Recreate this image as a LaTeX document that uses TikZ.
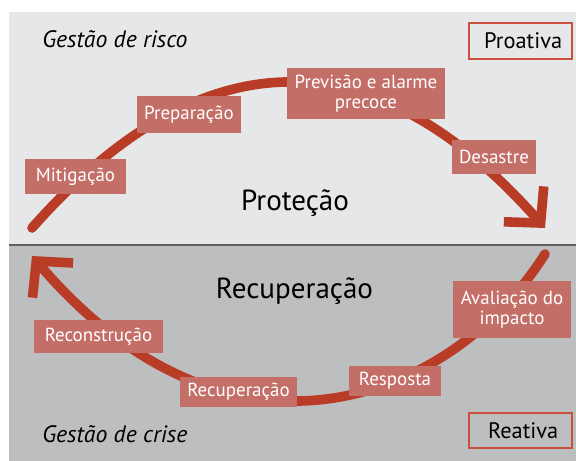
\documentclass[tikz,border=0pt]{standalone}
\usepackage{fontspec}
\setmainfont{PT Sans}
\usetikzlibrary{arrows.meta}
\definecolor{bgtop}{RGB}{230,231,233}
\definecolor{bgbot}{RGB}{189,190,192}
\definecolor{sepc}{RGB}{95,95,95}
\definecolor{arcc}{RGB}{185,60,38}
\definecolor{boxc}{RGB}{196,110,104}
\definecolor{framec}{RGB}{200,80,60}
\begin{document}
\begin{tikzpicture}[x=0.75pt,y=-0.75pt,
  arcline/.style={draw=arcc, line width=7.2pt, line cap=round,
    -{Straight Barb[sharp,length=19pt,width=40pt]}},
  stage/.style={fill=boxc, text=white, inner sep=0pt,
    font=\fontsize{14.2}{14.5}\selectfont, align=center},
  tag/.style={draw=framec, line width=0.9pt, inner sep=0pt,
    font=\fontsize{16.8}{18}\selectfont},
  side/.style={font=\fontsize{17.8}{20}\selectfont\itshape, anchor=base west, inner sep=0pt},
  phase/.style={font=\fontsize{21.8}{25}\selectfont, anchor=base, inner sep=0pt}]

\useasboundingbox (0,0) rectangle (576,461);
\fill[white] (0,0) rectangle (576,461);
\fill[bgtop] (9,12) rectangle (576,245);
\fill[bgbot] (9,245) rectangle (576,461);
\draw[sepc, line width=1.5pt] (9,245) -- (576,245);

% arcs
\coordinate (u0) at (32,228);
\coordinate (u1) at (545,228);
\draw[arcline] (u0) .. controls (202.7,34.7) and (373.7,34.7) .. (u1);
\coordinate (l0) at (545,254);
\coordinate (l1) at (32,256);
\draw[arcline] (l0) .. controls (453,400) and (232,490) .. (l1);

% stage boxes
\node[stage, minimum width=75.75pt, minimum height=26.25pt] (mit) at (75.5,176.5) {Mitigação};
\node[stage, minimum width=78pt, minimum height=27.75pt] (prep) at (189,114.5) {Preparação};
\node[stage, minimum width=118.5pt, minimum height=38.25pt] (prev) at (366,93.5) {Previsão e alarme\\precoce};
\node[stage, minimum width=63pt, minimum height=25.5pt] (des) at (494,157) {Desastre};
\node[stage, minimum width=88.5pt, minimum height=42.75pt] (aval) at (512,309.5) {Avaliação do\\impacto};
\node[stage, minimum width=69pt, minimum height=22.5pt] (resp) at (395,381) {Resposta};
\node[stage, minimum width=87.75pt, minimum height=22.5pt] (recs) at (238.5,392) {Recuperação};
\node[stage, minimum width=96.75pt, minimum height=24.75pt] (recon) at (98.5,336.5) {Reconstrução};

% tags
\node[tag, minimum width=77.25pt, minimum height=27pt] (pro) at (520.5,41) {\hspace{4pt}Proativa};
\node[tag, minimum width=77.25pt, minimum height=26.25pt] (rea) at (520.5,430.5) {\hspace{4pt}Reativa};

% side labels
\node[side] (risco) at (42,47) {Gestão de risco};
\node[side] (crise) at (42,442) {Gestão de crise};

% phase labels
\node[phase] (prot) at (295,210) {Proteção};
\node[phase] (recb) at (294.5,298) {Recuperação};
\end{tikzpicture}
\end{document}
